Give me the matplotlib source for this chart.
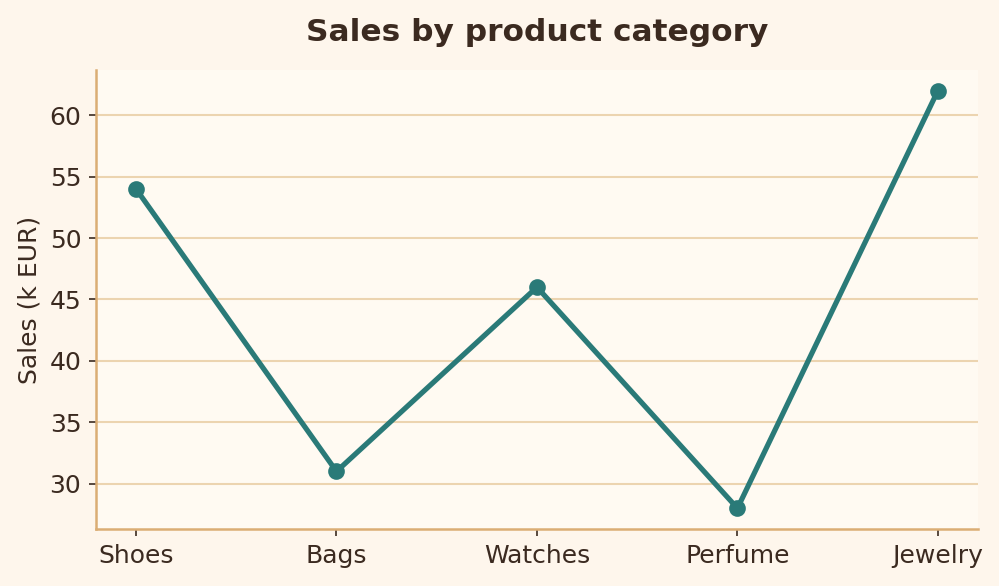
import matplotlib
matplotlib.use("Agg")
import matplotlib.pyplot as plt

categories = ["Shoes", "Bags", "Watches", "Perfume", "Jewelry"]
sales = [54, 31, 46, 28, 62]

text_color = "#3b2a20"
spine_color = "#dbad74"
grid_color = "#ecd4b0"

fig, ax = plt.subplots(figsize=(6.66, 3.9067), dpi=150)
fig.patch.set_facecolor("#fef6ec")
ax.set_facecolor("#fffaf2")

ax.plot(categories, sales, color="#2a7a78", linewidth=2.5, marker="o", markersize=7, zorder=3)

ax.set_title("Sales by product category", fontsize=15, fontweight="bold", color=text_color, pad=14)
ax.set_ylabel("Sales (k EUR)", fontsize=12, color=text_color)

ax.yaxis.grid(True, color=grid_color, linewidth=1)
ax.set_axisbelow(True)
for side in ["top", "right"]:
    ax.spines[side].set_visible(False)
for side in ["left", "bottom"]:
    ax.spines[side].set_color(spine_color)
    ax.spines[side].set_linewidth(1.2)

ax.tick_params(colors=text_color, labelsize=12)

fig.subplots_adjust(left=0.096, right=0.979, top=0.881, bottom=0.097)
fig.savefig("out.png", dpi=150, facecolor=fig.get_facecolor())
